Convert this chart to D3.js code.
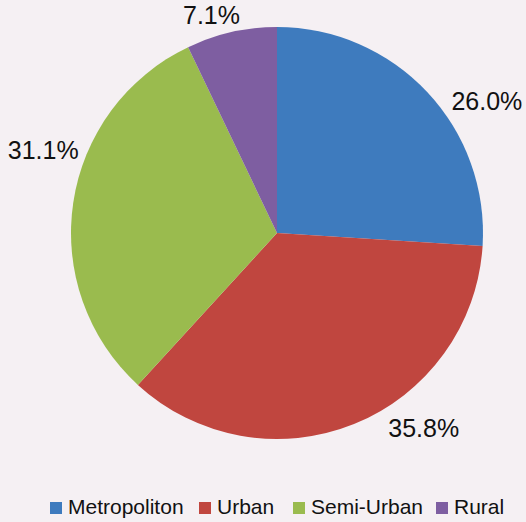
<!DOCTYPE html>
<html>
<head>
<meta charset="utf-8">
<script src="https://cdn.jsdelivr.net/npm/d3@7"></script>
<style>
  html, body { margin: 0; padding: 0; background: #f5f0f3; }
  svg { display: block; font-family: "Liberation Sans", Arial, sans-serif; }
</style>
</head>
<body>
<svg id="pie" width="526" height="522"></svg>
<script>
var categories = ["Metropoliton", "Urban", "Semi-Urban", "Rural"];
var shares = [26.0, 35.8, 31.1, 7.1];
var labels = ["26.0%", "35.8%", "31.1%", "7.1%"];
var colors = ["#3e7bbe", "#c0463f", "#9abb4e", "#7e5ea1"];

var svg = d3.select("#pie"),
  width = +svg.attr("width"),
  height = +svg.attr("height"),
  cx = 277, cy = 233, radius = 206;

var data = categories.map(function (c, i) {
  return { name: c, value: shares[i], label: labels[i], color: colors[i] };
});

var pie = d3.pie().sort(null).value(function (d) { return d.value; });
var arc = d3.arc().innerRadius(0).outerRadius(radius);

var g = svg.append("g")
  .attr("transform", "translate(" + cx + "," + cy + ")");

var arcs = pie(data);

g.selectAll(".slice")
  .data(arcs)
  .enter().append("path")
  .attr("class", "slice")
  .attr("d", arc)
  .attr("fill", function (d) { return d.data.color; });

// label placement nudges (degrees, radius) to mimic "best fit" layout
var nudge = [[11, 248], [-15, 244], [11, 248], [-4, 227]];

g.selectAll(".pct")
  .data(arcs)
  .enter().append("text")
  .attr("class", "pct")
  .attr("x", function (d, i) {
    var a = (d.startAngle + d.endAngle) / 2 + nudge[i][0] * Math.PI / 180;
    return Math.sin(a) * nudge[i][1];
  })
  .attr("y", function (d, i) {
    var a = (d.startAngle + d.endAngle) / 2 + nudge[i][0] * Math.PI / 180;
    return -Math.cos(a) * nudge[i][1];
  })
  .attr("dy", "0.35em")
  .attr("text-anchor", "middle")
  .attr("font-size", "25px")
  .attr("fill", "#111")
  .text(function (d) { return d.data.label; });

// legend
var legendX = d3.scalePoint().domain(categories).range([0, 1]);
var legend = svg.append("g").attr("transform", "translate(50,502)");
var offsets = [0, 149, 243, 386];

var item = legend.selectAll(".item")
  .data(data)
  .enter().append("g")
  .attr("class", "item")
  .attr("transform", function (d, i) { return "translate(" + offsets[i] + ",0)"; });

item.append("rect")
  .attr("width", 12)
  .attr("height", 12)
  .attr("fill", function (d) { return d.color; });

item.append("text")
  .attr("x", 18)
  .attr("y", 12)
  .attr("font-size", "21px")
  .attr("fill", "#111")
  .text(function (d) { return d.name; });
</script>
</body>
</html>
